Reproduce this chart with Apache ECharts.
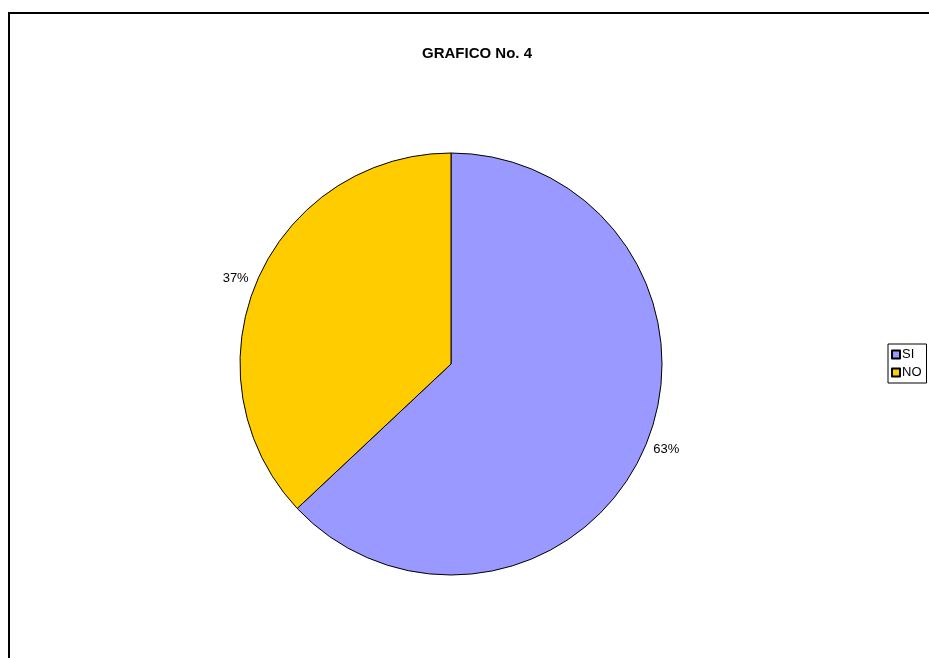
<!DOCTYPE html>
<html>
<head>
<meta charset="utf-8">
<script src="https://cdn.jsdelivr.net/npm/echarts@6/dist/echarts.min.js"></script>
<style>html,body{margin:0;padding:0;background:#fff;}#c{width:929px;height:658px;}</style>
</head>
<body>
<div id="c"></div>
<script>
const categories = ["SI", "NO"];
const values = [63, 37];
const colors = ["#9999FF", "#FFCC00"];
const titleText = "GRAFICO No. 4";

const chart = echarts.init(document.getElementById('c'), null, {renderer: 'canvas'});
chart.setOption({
  animation: false,
  backgroundColor: '#fff',
  graphic: [{
    type: 'rect', z: -1,
    shape: {x: 9, y: 13, width: 1000, height: 1000},
    style: {fill: 'none', stroke: '#000', lineWidth: 2}
  }],
  title: {
    text: titleText, left: 472, top: 41, textAlign: 'center',
    textStyle: {fontFamily: 'Liberation Sans, Arial, sans-serif', fontSize: 15, fontWeight: 'bold', color: '#000'}
  },
  legend: {
    orient: 'vertical', left: 888, top: 344,
    data: categories,
    borderColor: '#000', borderWidth: 1,
    padding: [4, 5, 4, 3],
    itemWidth: 8, itemHeight: 8, itemGap: 5,
    icon: 'rect',
    textStyle: {fontFamily: 'Liberation Sans, Arial, sans-serif', fontSize: 13, color: '#000', padding: [0,0,0,-3]}
  },
  series: [{
    type: 'pie',
    center: [451, 364],
    radius: 211,
    startAngle: 90,
    clockwise: true,
    data: categories.map((n, i) => ({name: n, value: values[i], itemStyle: {color: colors[i]}})),
    itemStyle: {borderColor: '#000', borderWidth: 1},
    label: {
      show: true, position: 'outside',
      formatter: p => Math.round(p.percent) + '%',
      fontFamily: 'Liberation Sans, Arial, sans-serif', fontSize: 13, color: '#000'
    },
    labelLine: {show: false, length: 4, length2: 0},
    emphasis: {disabled: true}
  }]
});
</script>
</body>
</html>
